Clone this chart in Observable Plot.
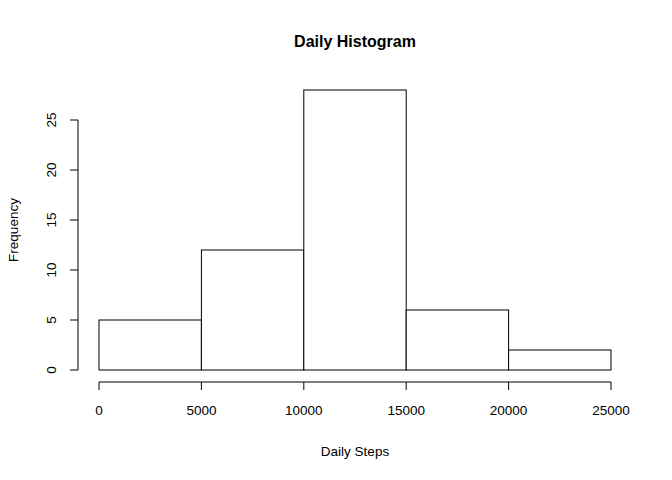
<!DOCTYPE html>
<html><head><meta charset="utf-8">
<script src="https://cdn.jsdelivr.net/npm/d3@7"></script>
<script src="https://cdn.jsdelivr.net/npm/@observablehq/plot@0.6"></script>
<style>body{margin:0;background:#fff}</style>
</head><body><div id="c"></div>
<script>
const binStart = [0, 5000, 10000, 15000, 20000];
const binEnd = [5000, 10000, 15000, 20000, 25000];
const counts = [5, 12, 28, 6, 2];
const xTicks = [0, 5000, 10000, 15000, 20000, 25000];
const yTicks = [0, 5, 10, 15, 20, 25];
const data = counts.map((c, i) => ({x1: binStart[i], x2: binEnd[i], y: c}));
const font = "Arial, 'Liberation Sans', sans-serif";
const plot = Plot.plot({
  width: 672, height: 480,
  marginLeft: 99, marginRight: 61, marginTop: 120, marginBottom: 110,
  style: {fontFamily: font, fontSize: "13px", background: "#fff", color: "#000"},
  x: {domain: [0, 25000], axis: null},
  y: {domain: [0, 25], axis: null},
  marks: [
    Plot.rectY(data, {x1: "x1", x2: "x2", y: "y", fill: "white", stroke: "black", strokeWidth: 1, clip: false})
  ]
});
const svg = d3.select(plot);
svg.attr("overflow", "visible");
const sx = plot.scale("x"), sy = plot.scale("y");
const g = svg.append("g").attr("fill", "none").attr("stroke", "black");
// y axis
const ax = 78;
g.append("line").attr("x1", ax).attr("x2", ax).attr("y1", sy.apply(0)).attr("y2", sy.apply(25));
yTicks.forEach(t => {
  g.append("line").attr("x1", ax).attr("x2", ax - 8).attr("y1", sy.apply(t)).attr("y2", sy.apply(t));
  svg.append("text").text(t).attr("transform", `translate(56,${sy.apply(t)}) rotate(-90)`)
    .attr("text-anchor", "middle").attr("font-family", font).attr("font-size", 13.5).attr("fill", "#000");
});
// x axis
const ay = 382;
g.append("line").attr("x1", sx.apply(0)).attr("x2", sx.apply(25000)).attr("y1", ay).attr("y2", ay);
xTicks.forEach(t => {
  g.append("line").attr("x1", sx.apply(t)).attr("x2", sx.apply(t)).attr("y1", ay).attr("y2", ay + 8);
  svg.append("text").text(t).attr("x", sx.apply(t)).attr("y", 415)
    .attr("text-anchor", "middle").attr("font-family", font).attr("font-size", 13.5).attr("fill", "#000");
});
svg.append("text").text("Daily Steps").attr("x", 355).attr("y", 456).attr("text-anchor", "middle")
  .attr("font-family", font).attr("font-size", 13.5).attr("fill", "#000");
svg.append("text").text("Frequency").attr("transform", "translate(18,230) rotate(-90)").attr("text-anchor", "middle")
  .attr("font-family", font).attr("font-size", 13.5).attr("fill", "#000");
svg.append("text").text("Daily Histogram").attr("x", 355).attr("y", 47).attr("text-anchor", "middle")
  .attr("font-family", font).attr("font-size", 16).attr("font-weight", "bold").attr("fill", "#000");
document.getElementById("c").appendChild(plot);
</script></body></html>
